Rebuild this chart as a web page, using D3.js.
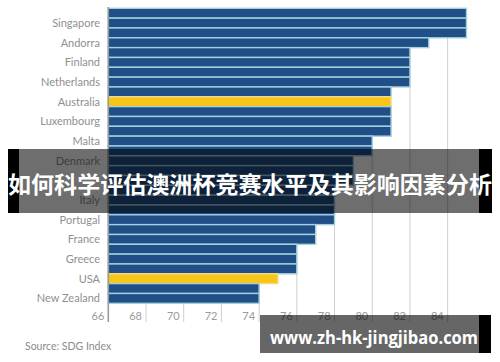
<!DOCTYPE html>
<html>
<head>
<meta charset="utf-8">
<script src="https://cdn.jsdelivr.net/npm/d3@7"></script>
<style>
  body { margin: 0; background: #fff; }
  svg { display: block; }
</style>
</head>
<body>
<svg width="500" height="362"></svg>
<script>
// one bar per row, only every second row carries a label
// (the label under the title banner cannot be read, so it is left empty)
const labels = [
  "", "Singapore", "", "Andorra", "", "Finland", "", "Netherlands",
  "", "Australia", "", "Luxembourg", "", "Malta", "", "Denmark",
  "", "", "", "Italy", "", "Portugal", "", "France",
  "", "Greece", "", "USA", "", "New Zealand"
];
const values = [
  85, 85, 85, 83, 82, 82, 82, 82,
  81, 81, 81, 81, 81, 80, 80, 79,
  79, 79, 78, 78, 78, 78, 77, 77,
  76, 76, 76, 75, 74, 74
];
const highlight = ["Australia", "USA"];
const ticks = [66, 68, 70, 72, 74, 76, 78, 80, 82, 84];
const title = "如何科学评估澳洲杯竞赛水平及其影响因素分析";
const source = "Source: SDG Index";
const watermark = "www.zh-hk-jingjibao.com";

const svg = d3.select("svg");
const rows = values.map((v, i) => ({ i: i, value: v, label: labels[i] }));

const x = d3.scaleLinear().domain([66, 85]).range([108.3, 466.5]);
const y = d3.scaleBand().domain(d3.range(values.length)).range([8.3, 303.3]).padding(0);

const plotTop = 8, plotBottom = 322;

// grid lines
svg.append("g")
  .selectAll("line")
  .data(ticks.slice(1))
  .enter().append("line")
  .attr("x1", d => x(d)).attr("x2", d => x(d))
  .attr("y1", plotTop).attr("y2", plotBottom)
  .attr("stroke", "#cfcfcf")
  .attr("stroke-width", 1);

// bars
svg.append("g")
  .selectAll("rect")
  .data(rows)
  .enter().append("rect")
  .attr("x", x(66))
  .attr("y", d => y(d.i))
  .attr("width", d => x(d.value) - x(66))
  .attr("height", y.bandwidth())
  .attr("fill", d => highlight.includes(d.label) ? "#f9c516" : "#1f4f86")
  .attr("stroke", d => highlight.includes(d.label) ? "#f3dd8a" : "#a4cfdc")
  .attr("stroke-width", 1.4);

// left axis line
svg.append("line")
  .attr("x1", x(66)).attr("x2", x(66))
  .attr("y1", plotTop - 1).attr("y2", plotBottom)
  .attr("stroke", "#9a9a9a")
  .attr("stroke-width", 1.6);

// country labels
svg.append("g")
  .selectAll("text")
  .data(rows.filter(d => d.label))
  .enter().append("text")
  .attr("x", 100)
  .attr("y", d => y(d.i) + y.bandwidth() / 2)
  .attr("dy", "0.35em")
  .attr("text-anchor", "end")
  .attr("fill", "#8f8f8f")
  .style("font", "11px Lato, 'Open Sans', sans-serif")
  .text(d => d.label);

// tick labels
svg.append("g")
  .selectAll("text")
  .data(ticks)
  .enter().append("text")
  .attr("x", d => x(d) - 4)
  .attr("y", 316)
  .attr("dy", "0.35em")
  .attr("text-anchor", "end")
  .attr("fill", "#9a9a9a")
  .style("font", "11px Lato, 'Open Sans', sans-serif")
  .text(d => d);

// source note
svg.append("text")
  .attr("x", 25)
  .attr("y", 346)
  .attr("dy", "0.35em")
  .attr("fill", "#8c8c8c")
  .style("font", "10.5px Lato, 'Open Sans', sans-serif")
  .text(source);

// title banner over the chart
const banner = svg.append("g");
banner.append("rect").attr("x", 8).attr("y", 149).attr("width", 11).attr("height", 64).attr("fill", "#000");
banner.append("rect").attr("x", 479).attr("y", 149).attr("width", 13).attr("height", 64).attr("fill", "#000");
banner.append("rect").attr("x", 19).attr("y", 149).attr("width", 460).attr("height", 64).attr("fill", "rgba(0,0,0,0.57)");
banner.append("text")
  .attr("x", 250)
  .attr("y", 183)
  .attr("dominant-baseline", "central")
  .attr("text-anchor", "middle")
  .attr("fill", "#fff")
  .attr("textLength", 484)
  .attr("lengthAdjust", "spacingAndGlyphs")
  .style("font", "bold 23px 'Noto Sans CJK SC', sans-serif")
  .text(title);

// watermark box
const mark = svg.append("g");
mark.append("rect").attr("x", 260).attr("y", 315).attr("width", 219).attr("height", 38).attr("fill", "rgba(0,0,0,0.6)");
mark.append("rect").attr("x", 479).attr("y", 315).attr("width", 12).attr("height", 38).attr("fill", "#000");
mark.append("text")
  .attr("x", 270)
  .attr("y", 344)
  .attr("fill", "#fff")
  .attr("textLength", 208)
  .attr("lengthAdjust", "spacingAndGlyphs")
  .style("font", "bold 17px 'Open Sans', sans-serif")
  .text(watermark);
</script>
</body>
</html>
